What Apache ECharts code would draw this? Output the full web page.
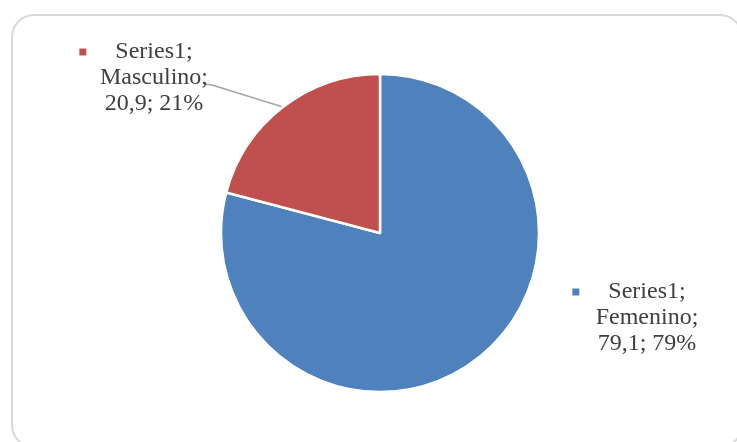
<!DOCTYPE html>
<html>
<head>
<meta charset="utf-8">
<script src="https://cdn.jsdelivr.net/npm/echarts@6/dist/echarts.min.js"></script>
<style>
  html, body { margin: 0; padding: 0; background: #fff; }
  #chart { width: 737px; height: 442px; }
</style>
</head>
<body>
<div id="chart"></div>
<script>
// datos
const seriesName = 'Series1'
const categories = ['Femenino', 'Masculino']
const values = [79.1, 20.9]
const percents = [79, 21]
const colors = ['#4F81BD', '#C0504D']
// posición de cada etiqueta (centro del bloque)
const labelAt = [[647, 318], [154, 78]]

const chart = echarts.init(document.getElementById('chart'))

function fmt (p) {
  const i = p.dataIndex
  const key = i === 0 ? 'm0' : 'm1'
  return '{' + key + '| }{g| }' + seriesName + ';{g2| }\n' +
    categories[i] + ';\n' +
    String(values[i]).replace('.', ',') + '; ' + percents[i] + '%'
}

const option = {
  backgroundColor: '#fff',
  animation: false,
  graphic: [{
    type: 'rect',
    shape: { x: 12, y: 15, width: 730, height: 432, r: 22 },
    style: { fill: 'none', stroke: '#d9d9d9', lineWidth: 2 },
    silent: true
  }],
  series: [{
    type: 'pie',
    center: [380, 233],
    radius: 159,
    startAngle: 90,
    clockwise: true,
    itemStyle: { borderColor: '#fff', borderWidth: 2.5 },
    data: categories.map((c, i) => ({
      name: c,
      value: values[i],
      itemStyle: { color: colors[i] },
      labelLine: { show: i === 1 }
    })),
    label: {
      show: true,
      position: 'outside',
      formatter: fmt,
      color: '#404040',
      fontFamily: '"Liberation Serif", "Times New Roman", serif',
      fontSize: 24,
      lineHeight: 26,
      align: 'center',
      rich: {
        m0: { width: 7, height: 7, backgroundColor: colors[0] },
        m1: { width: 7, height: 7, backgroundColor: colors[1] },
        g: { width: 29 },
        g2: { width: 36 }
      }
    },
    labelLine: {
      lineStyle: { color: '#a6a6a6', width: 1.5 }
    },
    labelLayout: function (params) {
      const pos = labelAt[params.dataIndex]
      const out = { x: pos[0], y: pos[1], align: 'center', verticalAlign: 'middle' }
      if (params.dataIndex === 1 && params.labelLinePoints) {
        const a = params.labelLinePoints[0]
        out.labelLinePoints = [a, [pos[0] + 58, pos[1] + 7], [pos[0] + 51, pos[1] + 6]]
      }
      return out
    }
  }]
}

chart.setOption(option)
</script>
</body>
</html>
